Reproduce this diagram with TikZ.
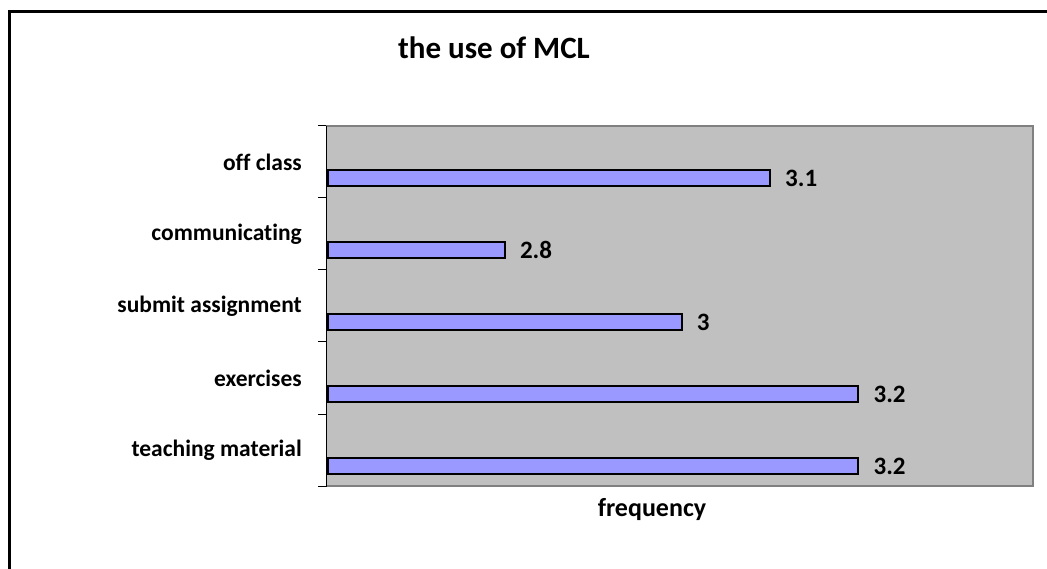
\documentclass[tikz,border=0pt]{standalone}
\usepackage{fontspec}
\setmainfont[Ligatures=NoCommon]{Carlito}
\usetikzlibrary{positioning}
\definecolor{plotgray}{HTML}{C0C0C0}
\definecolor{barblue}{HTML}{9999FF}
\definecolor{edgegray}{HTML}{808080}

\begin{document}
\begin{tikzpicture}[x=1pt, y=-1pt,
			catlabel/.style={anchor=east, inner sep=0pt, font=\fontsize{23.5}{28}\selectfont\bfseries},
			vallabel/.style={anchor=west, inner sep=0pt, font=\fontsize{25}{30}\selectfont\bfseries},
			barbox/.style={draw=black, line width=2pt, fill=barblue, inner sep=0pt, minimum height=16pt, anchor=west},
		]
		
			\useasboundingbox (0,0) rectangle (1047,569);
			\clip (0,0) rectangle (1047,569);
		
			%Frame
			\draw[line width=3pt] (9,12) rectangle (1100,640);
		
			%Plot area
			\fill[plotgray] (326,126) rectangle (1033,486);
			\draw[edgegray, line width=2pt] (326,126) -- (1033,126) -- (1033,486) -- (326,486);
			\draw[line width=1pt] (326,126) -- (326,487);
			\foreach \y in {126,198,...,486}
				\draw[line width=1pt] (318,\y) -- (326,\y);
		
			%Nodes
			\node[font=\fontsize{31}{36}\selectfont\bfseries] (title) at (494,48) {the use of MCL};
			\foreach \name/\val/\i in {off class/3.1/0, communicating/2.8/1, submit assignment/3/2, exercises/3.2/3, teaching material/3.2/4}{
				\pgfmathsetmacro{\len}{884*(\val-2.6)}
				\node[catlabel]		(cat\i)		at (302,162+72*\i)	{\name};
				\node[barbox, minimum width=\len pt]	(bar\i)	at (327,178+72*\i)	{};
				\node[vallabel]		(val\i)		[right=14pt of bar\i]	{\val};
			}
			\node[font=\fontsize{26}{31}\selectfont\bfseries] (xlabel) at (652,510) {frequency};
		
		\end{tikzpicture}
\end{document}
